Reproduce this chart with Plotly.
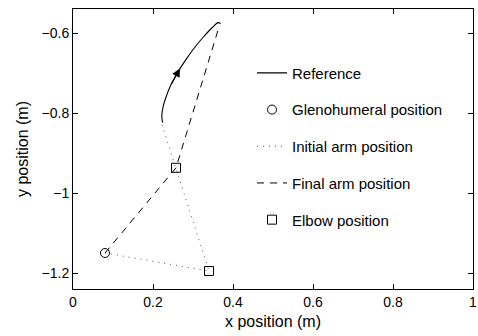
import plotly.graph_objects as go

# Reference hand trajectory
ref_x = [0.224, 0.222, 0.226, 0.234, 0.244, 0.255, 0.2675, 0.284, 0.305, 0.326, 0.347, 0.363, 0.369]
ref_y = [-0.824, -0.806, -0.781, -0.756, -0.731, -0.710, -0.689, -0.664, -0.635, -0.610, -0.5875, -0.574, -0.5765]
arrow_idx = 6

# Joint positions
shoulder_x = [0.08]
shoulder_y = [-1.15]
# initial arm: shoulder -> elbow -> hand
init_x = [0.08, 0.34, 0.222]
init_y = [-1.15, -1.195, -0.828]
# final arm: shoulder -> elbow -> hand
final_x = [0.08, 0.2575, 0.365]
final_y = [-1.15, -0.937, -0.585]
elbow_x = [0.34, 0.2575]
elbow_y = [-1.195, -0.937]

x_ticks = [0, 0.2, 0.4, 0.6, 0.8, 1]
x_labels = ["0", "0.2", "0.4", "0.6", "0.8", "1"]
y_ticks = [-1.2, -1.0, -0.8, -0.6]
y_labels = ["\u22121.2", "\u22121", "\u22120.8", "\u22120.6"]

FONT = "Liberation Sans, Arial, sans-serif"

fig = go.Figure()
fig.add_trace(go.Scatter(x=ref_x, y=ref_y, mode="lines", name="Reference",
                         line=dict(color="black", width=1.1, shape="spline", smoothing=1),
                         legendgroup="a"))
fig.add_trace(go.Scatter(x=shoulder_x, y=shoulder_y, mode="markers", name="Glenohumeral position",
                         marker=dict(symbol="circle-open", size=9, color="black", line=dict(width=1)),
                         legendgroup="b"))
fig.add_trace(go.Scatter(x=init_x, y=init_y, mode="lines", name="Initial arm position",
                         line=dict(color="#555555", width=1, dash="1px,5px"),
                         legendgroup="c"))
fig.add_trace(go.Scatter(x=final_x, y=final_y, mode="lines", name="Final arm position",
                         line=dict(color="black", width=1, dash="7px,6px"),
                         legendgroup="d"))
fig.add_trace(go.Scatter(x=elbow_x, y=elbow_y, mode="markers", name="Elbow position",
                         marker=dict(symbol="square-open", size=9, color="black", line=dict(width=1)),
                         legendgroup="e"))

fig.add_annotation(x=ref_x[arrow_idx], y=ref_y[arrow_idx],
                   ax=ref_x[arrow_idx - 2], ay=ref_y[arrow_idx - 2],
                   xref="x", yref="y", axref="x", ayref="y",
                   text="", showarrow=True, arrowhead=2, arrowsize=1.5,
                   arrowwidth=1.1, arrowcolor="black")

axis_common = dict(showline=True, linecolor="black", linewidth=1, mirror="ticks",
                   ticks="inside", ticklen=5, tickcolor="black", showgrid=False,
                   zeroline=False, automargin=False,
                   tickfont=dict(family=FONT, size=14, color="black"))

fig.update_xaxes(range=[0, 1], tickvals=x_ticks, ticktext=x_labels,
                 title=dict(text="x position (m)", font=dict(family=FONT, size=16, color="black"), standoff=7),
                 **axis_common)
fig.update_yaxes(range=[-1.24, -0.54], tickvals=y_ticks, ticktext=y_labels,
                 title=dict(text="y position (m)", font=dict(family=FONT, size=16, color="black"), standoff=8),
                 **axis_common)

fig.update_layout(
    width=478, height=336,
    margin=dict(l=73, r=5, t=9, b=47),
    paper_bgcolor="white", plot_bgcolor="white",
    font=dict(family=FONT, size=15, color="black"),
    legend=dict(x=0.4475, y=0.83, xanchor="left", yanchor="top",
                bgcolor="rgba(0,0,0,0)", borderwidth=0,
                tracegroupgap=14.2, traceorder="grouped",
                font=dict(family=FONT, size=15, color="black")),
)

fig.write_html("out.html", config={"displayModeBar": False},
               post_script="document.body.style.margin='0';")
